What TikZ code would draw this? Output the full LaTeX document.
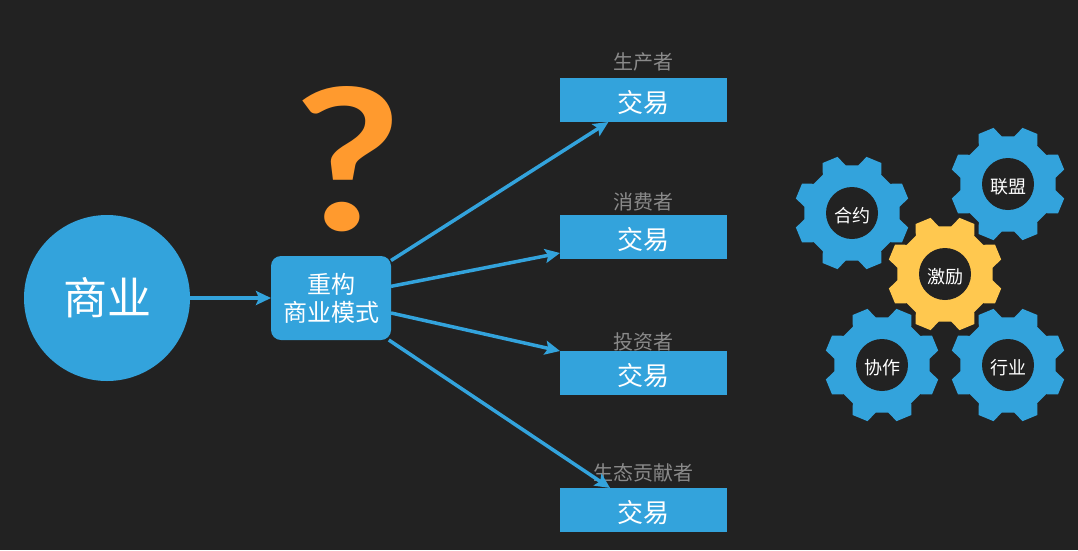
\documentclass[tikz,border=0pt]{standalone}
\usepackage{fontspec}
\setmainfont{Noto Sans CJK SC}
\newfontfamily\qfont{Lato}
\usetikzlibrary{arrows.meta, positioning, calc}
\definecolor{chartbg}{HTML}{222222}
\definecolor{chartblue}{HTML}{33A3DC}
\definecolor{chartyellow}{HTML}{FFC84F}
\definecolor{chartorange}{HTML}{FF9A2E}
\definecolor{chartgray}{HTML}{8A8A8A}
\newcommand{\fsize}[1]{\fontsize{#1}{#1}\selectfont}
% gear: name, centre, colour, text
\newcommand{\geardraw}[4]{%
    \fill[#3, shift={(#2)}, rotate=22.5] (-15:48)
        \foreach \a in {0,45,...,315} {
            -- ({\a-15}:48) -- ({\a-8}:58) -- ({\a+8}:58) -- ({\a+15}:48)
        } -- cycle;
    \node[hole] (#1) at (#2) {#4};
}
\begin{document}
\begin{tikzpicture}[
    x=1pt, y=-1pt,
    every node/.style={inner sep=0pt, outer sep=0pt},
    deal/.style={fill=chartblue, minimum width=167pt, minimum height=44pt, text=white, font=\fsize{26}, text height=28.5pt, text depth=3pt},
    role/.style={text=chartgray, font=\fsize{20}},
    hole/.style={circle, fill=chartbg, minimum size=52pt, text=white, font=\fsize{18}, text height=20pt, text depth=2pt},
    arrow/.style={-{Stealth[length=15pt, width=14pt, inset=3pt]}, line width=3.5pt, draw=chartblue}
]
    \useasboundingbox[fill=chartbg] (0,0) rectangle (1078,550);

    \node[circle, fill=chartblue, minimum size=166pt, text=white, font=\fsize{44}] (biz) at (107,298) {商业};
    \node[fill=chartblue, rounded corners=10pt, minimum width=120pt, minimum height=84pt, align=center, text=white, font=\fontsize{24}{28}\selectfont] (remodel) at (331,298) {重构\\商业模式};
    \node[text=chartorange, font=\qfont\bfseries\fsize{197}, xscale=1.18, transform shape] (mark) at (348,159) {?};

    \node[deal] (deal1) at (643.5,100) {交易};
    \node[deal] (deal2) at (643.5,237) {交易};
    \node[deal] (deal3) at (643.5,373) {交易};
    \node[deal] (deal4) at (643.5,510) {交易};

    \node[role, above=7pt of deal1] (maker) {生产者};
    \node[role, above=4pt of deal2] (buyer) {消费者};
    \node[role, above=0pt of deal3] (funder) {投资者};
    \node[role, above=6pt of deal4] (eco) {生态贡献者};

    \draw[arrow] (biz) -- (remodel);
    \draw[arrow] (remodel.32) -- ($(deal1.south west)!0.29!(deal1.south east)$);
    \draw[arrow] (remodel.11) -- ($(deal2.west)+(0,16)$);
    \draw[arrow] (remodel.-14) -- (deal3.north west);
    \draw[arrow] (remodel.-36) -- ($(deal4.north west)!0.30!(deal4.north east)$);

    \geardraw{contract}{852,213}{chartblue}{合约}
    \geardraw{league}{1008,184}{chartblue}{联盟}
    \geardraw{team}{882,365}{chartblue}{协作}
    \geardraw{trade}{1008,365}{chartblue}{行业}
    \geardraw{reward}{945,274}{chartyellow}{激励}
\end{tikzpicture}
\end{document}
